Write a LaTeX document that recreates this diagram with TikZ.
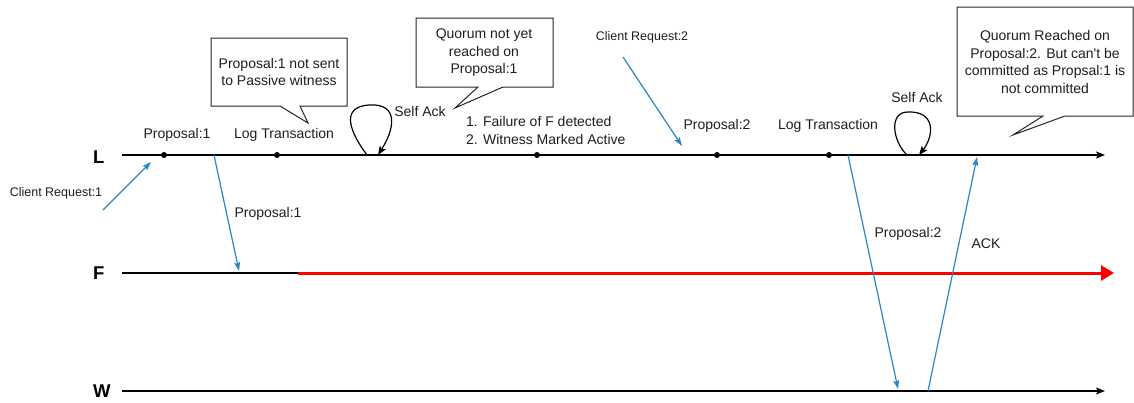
\documentclass[tikz,border=0pt]{standalone}
\usepackage{fontspec}
\setmainfont{Liberation Sans}
\usetikzlibrary{arrows.meta}
\definecolor{msgblue}{RGB}{41,134,196}
\definecolor{txt}{RGB}{30,30,30}
\definecolor{failred}{RGB}{255,0,0}

\begin{document}
\begin{tikzpicture}[x=1pt,y=-1pt,
  lbl/.style={font=\fontsize{14}{16}\selectfont, text=txt, inner sep=0pt},
  small/.style={font=\fontsize{12.5}{14}\selectfont, text=txt, inner sep=0pt},
  proc/.style={font=\bfseries\fontsize{18.5}{20}\selectfont, inner sep=0pt, anchor=west},
  timeline/.style={line width=1.2pt, -{Stealth[length=9pt,width=7pt,inset=2pt]}},
  failline/.style={failred, line width=3pt, -{Triangle[length=13pt,width=15pt]}},
  msg/.style={msgblue, line width=1.2pt, -{Stealth[length=9pt,width=6pt,inset=2pt]}},
  selfack/.style={line width=1.2pt, -{Stealth[length=9pt,width=7pt,inset=2pt]}},
  event/.style={circle, fill=black, inner sep=0pt, minimum size=6pt},
  callout/.style={draw=black!85, line width=1pt, fill=white},
  ctext/.style={align=center, font=\fontsize{14}{17.5}\selectfont, text=txt, inner sep=0pt}
]
\useasboundingbox (0,0) rectangle (1134,402);

% process names
\node[proc] (Lname) at (93,157) {L};
\node[proc] (Fname) at (93,273) {F};
\node[proc] (Wname) at (93,391) {W};

% timeline end points
\coordinate (Ls) at (122,155);
\coordinate (Le) at (1105,155);
\coordinate (Fs) at (122,273);
\coordinate (Ffail) at (298,273);
\coordinate (Fe) at (1114,273);
\coordinate (Ws) at (122,391);
\coordinate (We) at (1105,391);

\draw[timeline] (Ls) -- (Le);
\draw[line width=1.2pt] (Fs) -- (Ffail);
\draw[failline] (Ffail) -- (Fe);
\draw[timeline] (Ws) -- (We);

% events on the leader
\node[event] (p1) at (164,155) {};
\node[event] (log1) at (277,155) {};
\node[event] (fail) at (537,155) {};
\node[event] (p2) at (717,155) {};
\node[event] (log2) at (829,155) {};

\node[lbl] (p1lbl) at (177,135) {Proposal:1};
\node[lbl] (log1lbl) at (284,135) {Log Transaction};
\node[lbl] (p2lbl) at (717,126) {Proposal:2};
\node[lbl] (log2lbl) at (828,126) {Log Transaction};
\node[lbl] (ack1lbl) at (420,111) {Self Ack};
\node[lbl] (ack2lbl) at (917,97) {Self Ack};
\node[lbl, anchor=west, align=left, font=\fontsize{14}{18}\selectfont] (faillbl) at (466,130)
  {1. Failure of F detected\\2. Witness Marked Active};

% self acknowledgements
\coordinate (a1s) at (367,155);
\coordinate (a1top) at (369,105);
\coordinate (a1e) at (378,155);
\draw[selfack] (a1s) .. controls (352,135) and (338,107) .. (a1top)
  .. controls (400,103) and (394,130) .. (a1e);
\coordinate (a2s) at (907,155);
\coordinate (a2top) at (908,112);
\coordinate (a2e) at (919,155);
\draw[selfack] (a2s) .. controls (893,142) and (888,112) .. (a2top)
  .. controls (936,111) and (934,136) .. (a2e);

% client requests
\node[small] (cr1) at (56,193) {Client Request:1};
\coordinate (cr1s) at (103,210);
\coordinate (cr1e) at (151,162);
\draw[msg] (cr1s) -- (cr1e);

\node[small] (cr2) at (642,37) {Client Request:2};
\coordinate (cr2s) at (623,57);
\coordinate (cr2e) at (682,146);
\draw[msg] (cr2s) -- (cr2e);

% messages between processes
\coordinate (m1s) at (214,155);
\coordinate (m1e) at (239,271);
\draw[msg] (m1s) -- (m1e);
\node[lbl] (m1lbl) at (268,214) {Proposal:1};

\coordinate (m2s) at (848,155);
\coordinate (m2e) at (898,389);
\draw[msg] (m2s) -- (m2e);
\node[lbl] (m2lbl) at (908,234) {Proposal:2};

\coordinate (acks) at (928,391);
\coordinate (acke) at (977,157);
\draw[msg] (acks) -- (acke);
\node[lbl] (acklbl) at (986,244) {ACK};

% callouts
\draw[callout] (211,38) -- (347,38) -- (347,106) -- (300,106) -- (308,123)
  -- (280,106) -- (211,106) -- cycle;
\node[ctext] (note1) at (279,72) {Proposal:1 not sent\\to Passive witness};

\draw[callout] (416,18) -- (553,18) -- (553,87) -- (503,87) -- (455,108)
  -- (478,87) -- (416,87) -- cycle;
\node[ctext] (note2) at (484,53) {Quorum not yet\\reached on\\Proposal:1};

\draw[callout] (957,7) -- (1133,7) -- (1133,116) -- (1065,116) -- (1013,135)
  -- (1043,116) -- (957,116) -- cycle;
\node[ctext] (note3) at (1045,62) {Quorum Reached on\\Proposal:2. But can\textquotesingle t be\\committed as Propsal:1 is\\not committed};
\end{tikzpicture}
\end{document}
